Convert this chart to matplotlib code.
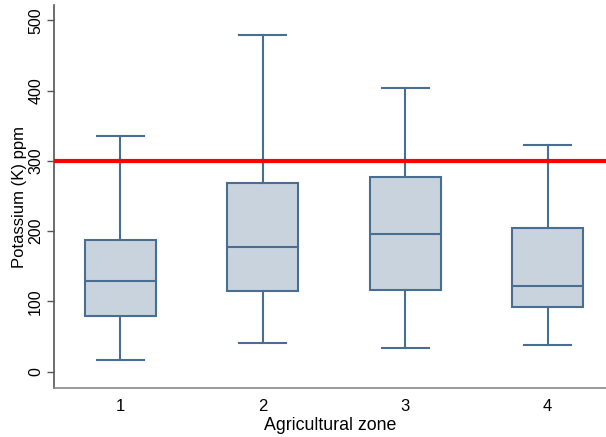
import matplotlib
matplotlib.use("Agg")
import matplotlib.pyplot as plt

plt.rcParams['font.family'] = ['Liberation Sans', 'DejaVu Sans']

zones = [1, 2, 3, 4]
whislo = [16, 41, 34, 38]
q1 = [80, 115, 116, 92]
med = [129, 177, 196, 122]
q3 = [187, 268, 277, 205]
whishi = [336, 479, 404, 323]
threshold = 300
yticks = [0, 100, 200, 300, 400, 500]

fig = plt.figure(figsize=(6.06, 4.37), dpi=100)
ax = fig.add_axes([0.0896, 0.1114, 0.9104, 0.8772])

edge = '#4a6e92'
fill = '#c8d3de'
stats = []
for i in range(len(zones)):
    stats.append(dict(label=str(zones[i]), whislo=whislo[i], q1=q1[i], med=med[i],
                      q3=q3[i], whishi=whishi[i], fliers=[]))
ax.bxp(stats, positions=zones, widths=0.5, patch_artist=True, showfliers=False,
       boxprops=dict(facecolor=fill, edgecolor=edge, linewidth=1.5),
       medianprops=dict(color=edge, linewidth=1.5),
       whiskerprops=dict(color=edge, linewidth=1.5),
       capprops=dict(color=edge, linewidth=1.5),
       capwidths=0.33)

ax.axhline(threshold, color='#ff0000', linewidth=3, zorder=5)

ax.set_xlim(0.537, 4.41)
ax.set_ylim(-23.6, 522)
ax.set_yticks(yticks)
ax.set_yticklabels([str(v) for v in yticks], rotation=90, va='center', fontsize=11.5)
ax.set_xticks(zones)
ax.set_xticklabels([str(z) for z in zones], fontsize=12)
ax.tick_params(axis='x', length=0, pad=8)
ax.tick_params(axis='y', length=5, width=1, color='#555555', pad=3)

ax.spines['top'].set_visible(False)
ax.spines['right'].set_visible(False)
ax.spines['left'].set_color('#555555')
ax.spines['bottom'].set_color('#888888')
ax.spines['left'].set_linewidth(1.2)
ax.spines['bottom'].set_linewidth(1.2)

ax.set_xlabel('Agricultural zone', fontsize=12.8, labelpad=2)
ax.set_ylabel('Potassium (K) ppm', fontsize=12, labelpad=1)

fig.savefig('out.png', dpi=100)
